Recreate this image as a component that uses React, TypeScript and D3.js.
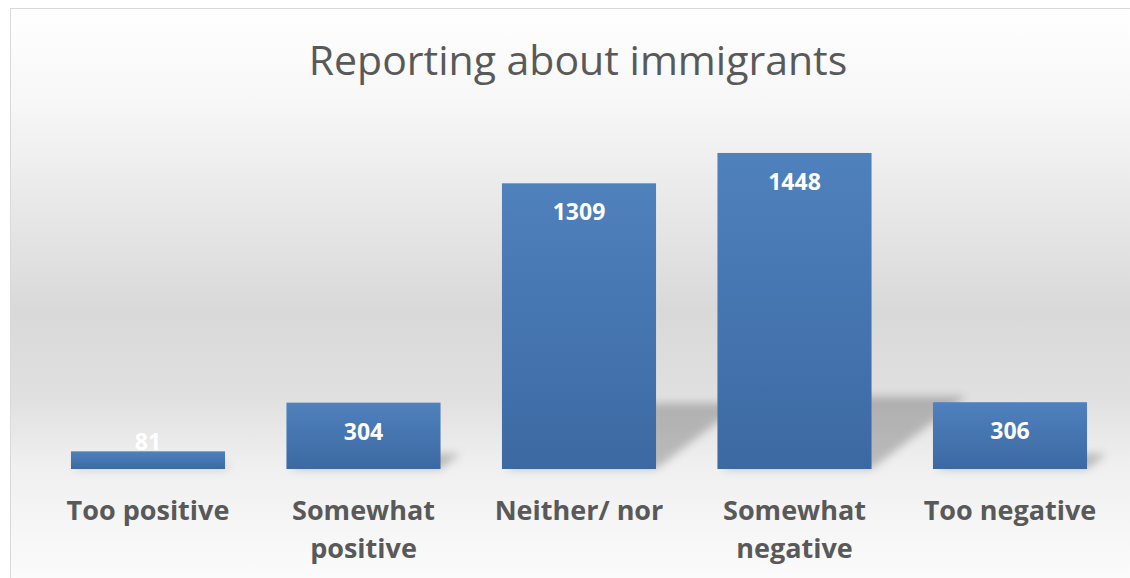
import React, { useMemo } from "react";
import * as d3 from "d3";

// Survey answers: how the media report about immigrants
const categories: string[] = [
  "Too positive",
  "Somewhat positive",
  "Neither/ nor",
  "Somewhat negative",
  "Too negative",
];
const counts: number[] = [81, 304, 1309, 1448, 306];
const chartTitle = "Reporting about immigrants";
const axisMax = 1600;

const W = 1130;
const H = 578;
const baseY = 469;
const textGray = "#595959";
const labelFont = "'Open Sans', 'DejaVu Sans', sans-serif";

// Greedy word wrap using canvas text metrics
function wrapLabel(text: string, font: string, maxWidth: number): string[] {
  const canvas = document.createElement("canvas");
  const ctx = canvas.getContext("2d");
  if (!ctx) return [text];
  ctx.font = font;
  const words = text.split(" ");
  const lines: string[] = [];
  let line = "";
  for (const w of words) {
    const test = line ? line + " " + w : w;
    if (line && ctx.measureText(test).width > maxWidth) {
      lines.push(line);
      line = w;
    } else {
      line = test;
    }
  }
  if (line) lines.push(line);
  return lines;
}

export default function App() {
  const x = useMemo(
    () =>
      d3
        .scaleBand<string>()
        .domain(categories)
        .range([40.25, 1117.75])
        .paddingInner(0.285)
        .paddingOuter(0.1425),
    []
  );
  const y = useMemo(
    () => d3.scaleLinear().domain([0, axisMax]).range([baseY, 119.8]),
    []
  );

  const bw = x.bandwidth();
  const catFontSize = 27;
  const wrapped = categories.map((c) =>
    wrapLabel(c, `bold ${catFontSize}px 'Open Sans'`, x.step() * 0.95)
  );

  // Perspective shadow: bar footprint skewed up and to the right
  const shadowPath = (c: string, v: number) => {
    const x0 = x(c) as number;
    const x1 = x0 + bw;
    const h = baseY - y(v);
    const sh = h * 0.23;
    const dx = h * 0.3;
    const p = d3.path();
    p.moveTo(x0 + 4, baseY);
    p.lineTo(x1, baseY);
    p.lineTo(x1 + dx, baseY - sh);
    p.lineTo(x0 + dx, baseY - sh);
    p.closePath();
    return p.toString();
  };

  return (
    <svg
      width={W}
      height={H}
      style={{ position: "absolute", left: 0, top: 0, display: "block" }}
    >
      <defs>
        <linearGradient id="bg" gradientUnits="userSpaceOnUse" x1="0" y1="8" x2="0" y2="590">
          <stop offset="0" stopColor="#ffffff" />
          <stop offset="0.16" stopColor="#f7f7f7" />
          <stop offset="0.33" stopColor="#e9e9e9" />
          <stop offset="0.52" stopColor="#d9d9d9" />
          <stop offset="0.67" stopColor="#e0e0e0" />
          <stop offset="0.79" stopColor="#f0f0f0" />
          <stop offset="1" stopColor="#fcfcfc" />
        </linearGradient>
        <linearGradient id="barFill" x1="0" y1="0" x2="0" y2="1">
          <stop offset="0" stopColor="#4f81bd" />
          <stop offset="1" stopColor="#3c69a2" />
        </linearGradient>
        <filter id="shadowBlur" x="-20%" y="-50%" width="140%" height="200%">
          <feGaussianBlur stdDeviation="4" />
        </filter>
      </defs>

      <rect x={0} y={0} width={W} height={H} fill="#ffffff" />
      <rect
        x={10.5}
        y={8.5}
        width={1140}
        height={600}
        fill="url(#bg)"
        stroke="#d9d9d9"
        strokeWidth={1}
      />

      <text
        x={578}
        y={75}
        textAnchor="middle"
        fontFamily={labelFont}
        fontSize={41}
        fill={textGray}
      >
        {chartTitle}
      </text>

      <g filter="url(#shadowBlur)">
        {categories.map((c, i) => (
          <path key={c} d={shadowPath(c, counts[i])} fill="#000" fillOpacity={0.22} />
        ))}
      </g>

      {categories.map((c, i) => (
        <rect
          key={c}
          x={x(c)}
          y={y(counts[i])}
          width={bw}
          height={baseY - y(counts[i])}
          fill="url(#barFill)"
        />
      ))}

      {categories.map((c, i) => {
        const top = y(counts[i]);
        const cy = Math.min(top + 29, baseY - 27);
        return (
          <text
            key={c}
            x={(x(c) as number) + bw / 2}
            y={cy}
            dy="0.35em"
            textAnchor="middle"
            fontFamily={labelFont}
            fontWeight="bold"
            fontSize={23}
            fill="#ffffff"
          >
            {counts[i]}
          </text>
        );
      })}

      {categories.map((c, i) => (
        <text
          key={c}
          x={(x(c) as number) + bw / 2}
          y={520}
          textAnchor="middle"
          fontFamily={labelFont}
          fontWeight="bold"
          fontSize={catFontSize}
          fill={textGray}
        >
          {wrapped[i].map((ln, j) => (
            <tspan key={j} x={(x(c) as number) + bw / 2} y={520 + j * 38}>
              {ln}
            </tspan>
          ))}
        </text>
      ))}
    </svg>
  );
}
